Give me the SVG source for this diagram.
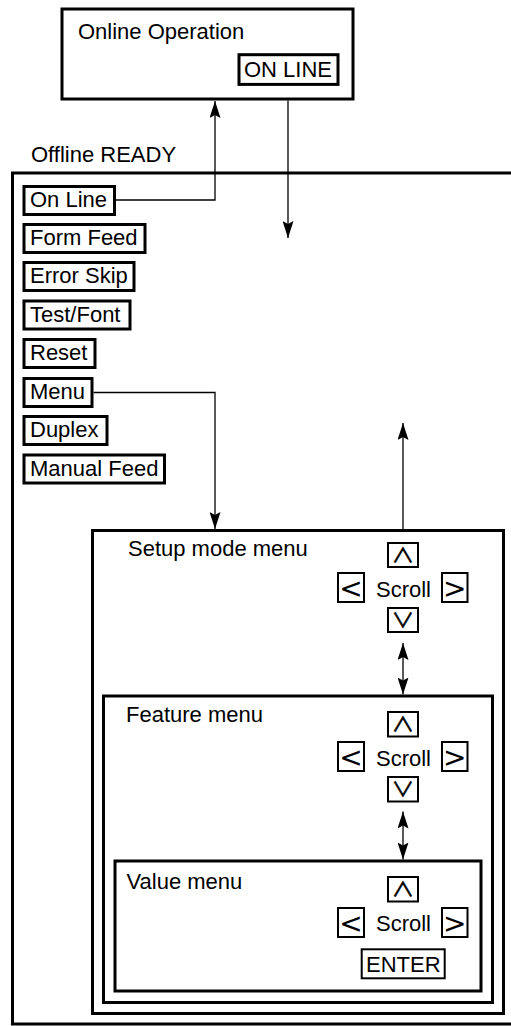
<svg xmlns="http://www.w3.org/2000/svg" width="511" height="1026" viewBox="0 0 511 1026">
<defs>
<style>
.t{font-family:"Liberation Sans",Arial,sans-serif;font-size:22px;fill:#000}
.ch{font-family:"DejaVu Sans",sans-serif;font-size:28px;fill:#000;text-anchor:middle}
.cv{font-family:"Noto Sans CJK JP","DejaVu Sans",sans-serif;font-size:19px;fill:#000;stroke:#000;stroke-width:0.5;text-anchor:middle}
.box{fill:none;stroke:#000;stroke-width:3}
.btn{fill:#fff;stroke:#000;stroke-width:3}
.sb{fill:#fff;stroke:#000;stroke-width:2}
.con{fill:none;stroke:#000;stroke-width:1.3}
</style>
<marker id="ah" viewBox="0 0 17 11" refX="17" refY="5.5" markerWidth="17" markerHeight="11" markerUnits="userSpaceOnUse" orient="auto-start-reverse">
<path d="M0,0 L17,5.5 L0,11 L3,5.5 Z" fill="#000"/>
</marker>
</defs>
<rect width="511" height="1026" fill="#fff"/>

<g id="online">
<rect class="box" x="62" y="9" width="291" height="90"/>
<text class="t" x="78" y="39">Online Operation</text>
<rect class="btn" x="239" y="54.7" width="99" height="29.7" stroke-width="2.7"/>
<text class="t" x="244" y="77">ON LINE</text>
</g>

<g id="offline">
<text class="t" x="31" y="162">Offline READY</text>
<rect class="box" x="12.5" y="173" width="510" height="851"/>
</g>

<g id="buttons">
<g id="btn-online"><rect class="btn" x="24" y="186.5" width="90.5" height="28"/><text class="t" x="30" y="207">On Line</text></g>
<g id="btn-formfeed"><rect class="btn" x="24" y="224.5" width="121" height="28"/><text class="t" x="30" y="245">Form Feed</text></g>
<g id="btn-errorskip"><rect class="btn" x="24" y="262.5" width="110" height="28"/><text class="t" x="30" y="283">Error Skip</text></g>
<g id="btn-testfont"><rect class="btn" x="24" y="301" width="106" height="28"/><text class="t" x="30" y="321.5">Test/Font</text></g>
<g id="btn-reset"><rect class="btn" x="24" y="339.5" width="71" height="28"/><text class="t" x="30" y="360">Reset</text></g>
<g id="btn-menu"><rect class="btn" x="24" y="378.5" width="68" height="28"/><text class="t" x="30" y="399">Menu</text></g>
<g id="btn-duplex"><rect class="btn" x="24" y="416.5" width="83" height="28"/><text class="t" x="30" y="437">Duplex</text></g>
<g id="btn-manualfeed"><rect class="btn" x="24" y="455" width="140.5" height="28"/><text class="t" x="30" y="475.5">Manual Feed</text></g>
</g>

<g id="setup">
<rect class="box" x="92.5" y="530.5" width="411" height="483"/>
<text class="t" x="128" y="556">Setup mode menu</text>
<rect class="sb" x="388" y="543" width="30" height="24"/><text class="cv" transform="translate(403,562.5) scale(1.2,1.05)">∧</text>
<rect class="sb" x="338" y="573" width="26" height="29"/><text class="ch" x="351" y="597.5">&lt;</text>
<text class="t" x="376" y="597">Scroll</text>
<rect class="sb" x="442" y="573" width="25.5" height="29"/><text class="ch" x="454.7" y="597.5">&gt;</text>
<rect class="sb" x="388" y="608" width="30" height="24"/><text class="cv" transform="translate(403,627.5) scale(1.2,1.05)">∨</text>
</g>

<g id="feature">
<rect class="box" x="103.5" y="696" width="389" height="306.5"/>
<text class="t" x="126" y="722">Feature menu</text>
<rect class="sb" x="388" y="712" width="30" height="24.5"/><text class="cv" transform="translate(403,731.5) scale(1.2,1.05)">∧</text>
<rect class="sb" x="338" y="742" width="26" height="29"/><text class="ch" x="351" y="766.5">&lt;</text>
<text class="t" x="376" y="765.5">Scroll</text>
<rect class="sb" x="442" y="742" width="25.5" height="29"/><text class="ch" x="454.7" y="766.5">&gt;</text>
<rect class="sb" x="388" y="777" width="30" height="24.5"/><text class="cv" transform="translate(403,796.5) scale(1.2,1.05)">∨</text>
</g>

<g id="value">
<rect class="box" x="115" y="861" width="366" height="130"/>
<text class="t" x="126.5" y="888.5">Value menu</text>
<rect class="sb" x="388" y="877" width="30" height="24.5"/><text class="cv" transform="translate(403,896.5) scale(1.2,1.05)">∧</text>
<rect class="sb" x="338" y="908" width="26" height="29"/><text class="ch" x="351" y="932.5">&lt;</text>
<text class="t" x="376" y="931">Scroll</text>
<rect class="sb" x="442" y="908" width="25.5" height="29"/><text class="ch" x="454.7" y="932.5">&gt;</text>
<rect class="sb" x="361.7" y="949.3" width="83" height="29"/><text class="t" x="366" y="972">ENTER</text>
</g>

<g id="connectors">
<path class="con" d="M116,200 H215 V101" marker-end="url(#ah)"/>
<path class="con" d="M288,100.5 V238" marker-end="url(#ah)"/>
<path class="con" d="M93.5,392.5 H215 V529" marker-end="url(#ah)"/>
<path class="con" d="M403,529 V423" marker-end="url(#ah)"/>
<path class="con" d="M403,643 V694.5" marker-start="url(#ah)" marker-end="url(#ah)"/>
<path class="con" d="M403,811.5 V859.5" marker-start="url(#ah)" marker-end="url(#ah)"/>
</g>
</svg>
